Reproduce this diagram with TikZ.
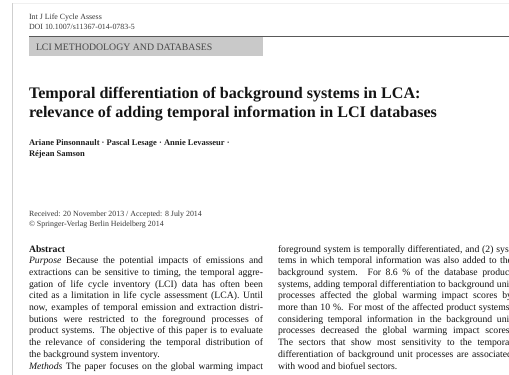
\documentclass[tikz,border=0pt]{standalone}
\usepackage{fontspec}
\setmainfont{Liberation Serif}
\newlength\colw
\setlength\colw{234pt}
\newcommand\jline[1]{\makebox[\colw][s]{#1}}
\newcommand\fline[1]{\makebox[\colw][l]{#1}}
\tikzset{
  txt/.style={anchor=base west, inner sep=0pt, outer sep=0pt},
  body/.style={txt, text=black!92, font=\fontsize{9.7}{11}\selectfont},
  small/.style={txt, text=black!78, font=\fontsize{7.9}{9}\selectfont},
  ttl/.style={txt, text=black!92, font=\fontsize{16.1}{18}\bfseries\selectfont},
  auth/.style={txt, text=black!88, font=\fontsize{8.5}{10}\bfseries\selectfont},
}
\begin{document}
\begin{tikzpicture}[x=1pt,y=-1pt]
\useasboundingbox (0,0) rectangle (509,375);
\clip (0,0) rectangle (509,375);
\fill[white] (0,0) rectangle (509,375);
% page edge
\draw[gray!38, line width=1.1pt] (12.5,3) -- (12.5,375);
\draw[gray!12, line width=0.8pt] (12.5,3) -- (509,3);
% journal header
\node[small] (journal) at (29,19) {Int J Life Cycle Assess};
\node[small] (doi) at (29,29.5) {DOI 10.1007/s11367-014-0783-5};
% section band
\fill[gray!42] (29,37) rectangle (263,56);
\draw[black!65, line width=1.2pt] (29,36.6) -- (509,36.6);
\node[txt, text=black!72, font=\fontsize{9.8}{11}\selectfont] (section) at (36,50) {LCI METHODOLOGY AND DATABASES};
% title
\node[ttl] (title1) at (29,98) {Temporal differentiation of background systems in LCA:};
\node[ttl] (title2) at (29,117.5) {relevance of adding temporal information in LCI databases};
% authors
\node[auth] (auth1) at (29,145) {Ariane Pinsonnault · Pascal Lesage · Annie Levasseur ·};
\node[auth] (auth2) at (29,156) {Réjean Samson};
% dates
\node[small] (recv) at (29,216.5) {Received: 20 November 2013 / Accepted: 8 July 2014};
\node[small] (copy) at (29,226) {© Springer-Verlag Berlin Heidelberg 2014};
% left column
\node[body, font=\fontsize{9.7}{11}\bfseries\selectfont] (abs) at (29,252) {Abstract};
\node[body] (l1) at (29,263.7) {\jline{\textit{Purpose} Because the potential impacts of emissions and}};
\node[body] (l2) at (29,275.4) {\jline{extractions can be sensitive to timing, the temporal aggre-}};
\node[body] (l3) at (29,287.1) {\jline{gation of life cycle inventory (LCI) data has often been}};
\node[body] (l4) at (29,298.8) {\jline{cited as a limitation in life cycle assessment (LCA). Until}};
\node[body] (l5) at (29,310.5) {\jline{now, examples of temporal emission and extraction distri-}};
\node[body] (l6) at (29,322.2) {\jline{butions were restricted to the foreground processes of}};
\node[body] (l7) at (29,333.9) {\jline{product systems. The objective of this paper is to evaluate}};
\node[body] (l8) at (29,345.6) {\jline{the relevance of considering the temporal distribution of}};
\node[body] (l9) at (29,357.3) {\fline{the background system inventory.}};
\node[body] (l10) at (29,369) {\jline{\textit{Methods} The paper focuses on the global warming impact}};
% right column
\node[body] (r0) at (278,252) {\jline{foreground system is temporally differentiated, and (2) sys-}};
\node[body] (r1) at (278,263.7) {\jline{tems in which temporal information was also added to the}};
\node[body] (r2) at (278,275.4) {\jline{background system. For 8.6 \% of the database product}};
\node[body] (r3) at (278,287.1) {\jline{systems, adding temporal differentiation to background unit}};
\node[body] (r4) at (278,298.8) {\jline{processes affected the global warming impact scores by}};
\node[body] (r5) at (278,310.5) {\jline{more than 10 \%. For most of the affected product systems,}};
\node[body] (r6) at (278,322.2) {\jline{considering temporal information in the background unit}};
\node[body] (r7) at (278,333.9) {\jline{processes decreased the global warming impact scores.}};
\node[body] (r8) at (278,345.6) {\jline{The sectors that show most sensitivity to the temporal}};
\node[body] (r9) at (278,357.3) {\jline{differentiation of background unit processes are associated}};
\node[body] (r10) at (278,369) {\fline{with wood and biofuel sectors.}};
\end{tikzpicture}
\end{document}
